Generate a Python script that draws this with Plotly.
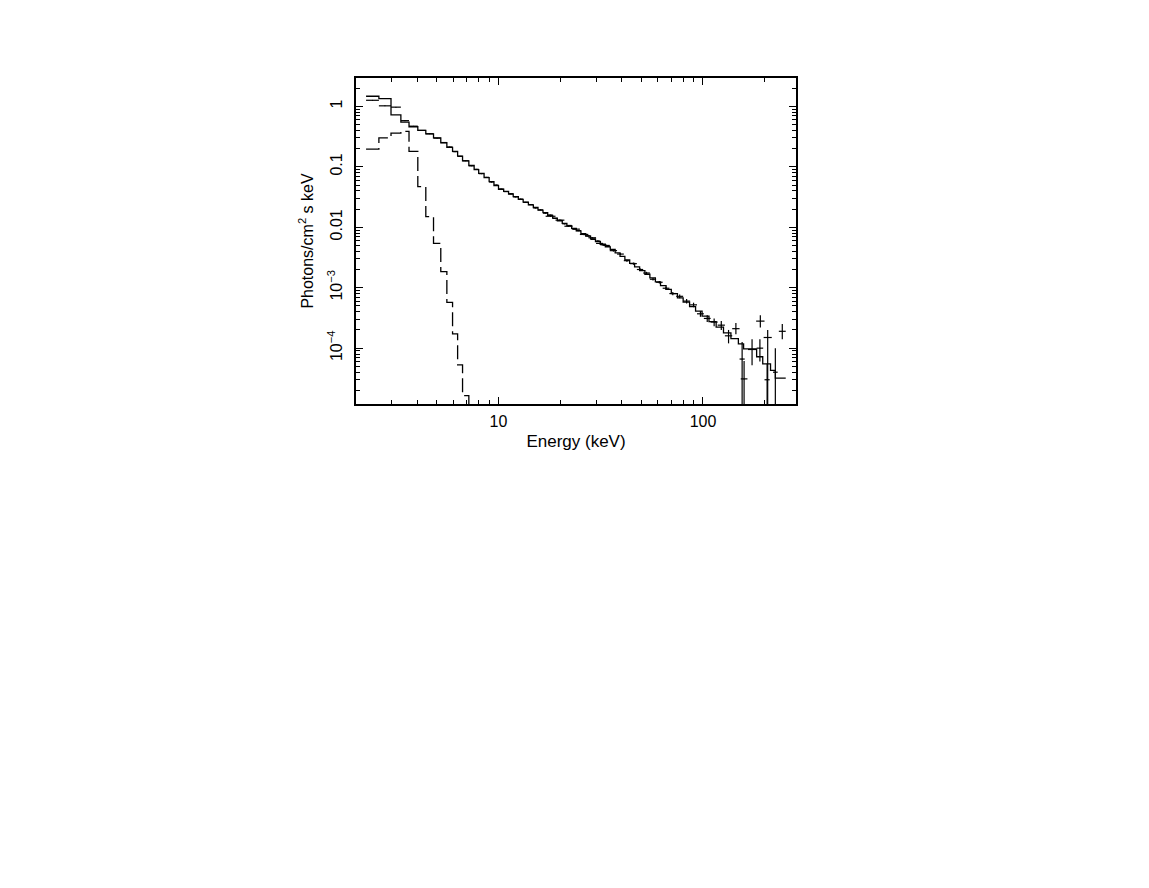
import math
import plotly.graph_objects as go

# ---------------- data ----------------
# model bin edges (keV)
model_edges = [2.25, 2.60, 2.98, 3.33, 3.65, 4.03, 4.41, 4.81, 5.22, 5.59, 5.96, 6.31, 6.67, 7.16, 7.60, 8.00, 8.50, 9.00, 9.50, 10.0,
               10.6, 11.2, 11.8, 12.5, 13.2, 14.0, 14.8, 15.6, 16.5, 17.4, 18.4, 19.4, 20.5, 21.6, 22.8, 24.0, 25.3, 26.7, 28.2, 29.8, 31.5, 33.3, 35.2,
               37.2, 39.3, 41.5, 43.8, 46.3, 49.0, 52.0, 55.0, 58.5, 62.0, 66.0, 70.0, 75.0, 80.0, 86.0, 92.0, 99.0,
               107, 116, 126, 137, 149, 158, 183, 196, 214, 226, 254]
# total model (photons / cm^2 s keV)
model_total = [1.47, 1.34, 0.72, 0.55, 0.46, 0.40, 0.35, 0.30, 0.25, 0.21, 0.18, 0.15, 0.125, 0.105, 0.090, 0.078, 0.066, 0.057, 0.049,
               0.0425, 0.0392, 0.0355, 0.0321, 0.0289, 0.0261, 0.0235, 0.0212, 0.0192, 0.0174, 0.0157, 0.0142, 0.0128, 0.0116, 0.0105, 0.00955, 0.00868, 0.00786, 0.00711, 0.00642, 0.00580, 0.00523, 0.00472,
               0.00430, 0.00376, 0.00329, 0.00289, 0.00253, 0.00221, 0.00192, 0.00167, 0.00145, 0.00125, 0.00108, 0.000935, 0.000800, 0.000681, 0.000577, 0.000487, 0.000411,
               3.39e-4, 2.75e-4, 2.22e-4, 1.79e-4, 1.44e-4, 1.18e-4, 9.7e-5, 7.2e-5, 5.5e-5, 4.3e-5, 3.2e-5]
# soft (dashed) component on the first bins
soft_component = [0.196, 0.30, 0.36, 0.385, 0.18, 0.047, 0.0150, 0.0054, 0.00184, 5.7e-4, 1.72e-4, 5.3e-5, 1.64e-5, 4.5e-6]

# low-energy instrument data (same bins as model, first 42)
pca_flux = [1.26, 1.02, 0.97, 0.58, 0.47, 0.40, 0.352, 0.298, 0.252, 0.213, 0.178, 0.149, 0.126, 0.104, 0.091, 0.077, 0.067, 0.056, 0.050,
            0.0428, 0.0389, 0.0358, 0.0318, 0.0292, 0.0258, 0.0237, 0.0209, 0.0194, 0.0171, 0.0159, 0.0140, 0.0130, 0.0114, 0.0107, 0.00940, 0.00880, 0.00775, 0.00722, 0.00630, 0.00592, 0.00512, 0.00485]
pca_err = [0.01, 0.008, 0.007, 0.005, 0.004, 0.003, 0.003, 0.0025, 0.002, 0.002, 0.0018, 0.0015, 0.0013, 0.0011, 0.001, 0.0009, 0.0008, 0.0007, 0.0006,
           0.0005, 0.0005, 0.00045, 0.0004, 0.0004, 0.00035, 0.00033, 0.0003, 0.0003, 0.00028, 0.00026, 0.00024, 0.00022, 0.0002, 0.0002, 0.00019, 0.00018, 0.00017, 0.00016, 0.00015, 0.00015, 0.00014, 0.00014]

# high-energy instrument data
hexte_edges = [17, 19, 21, 23, 25, 27.5, 30, 32.5, 35, 38, 41, 44, 47.5, 51, 55, 59, 63.5, 68.5, 74, 80, 86.5, 93.5, 101, 109, 118, 128, 139]
hexte_flux = [0.0152, 0.0131, 0.0104, 0.0093, 0.0076, 0.0067, 0.0054, 0.0050, 0.0041, 0.0036, 0.0028, 0.0025, 0.0020, 0.00175, 0.00138, 0.00123,
              0.00098, 0.00080, 0.00072, 0.00060, 0.00052, 0.00037, 0.00031, 0.00027, 0.00024, 0.00016]
hexte_err = [0.0003, 0.0003, 0.00025, 0.00022, 0.0002, 0.00018, 0.00016, 0.00015, 0.00013, 0.00012, 0.00011, 0.0001, 0.00009, 0.00008, 0.00007,
             0.00006, 0.00006, 0.00005, 0.00005, 0.00005, 0.000045, 0.00004, 0.00004, 0.00004, 0.00004, 0.00004]

# faint high-energy points
tail_lo = [139, 151, 153, 166, 182, 183, 198, 200, 220, 235]
tail_hi = [151, 160, 165, 182, 200, 197, 217, 212, 232, 254]
tail_flux = [2.1e-4, 6.6e-5, 3.1e-5, 9.5e-5, 2.8e-4, 1.0e-4, 1.5e-4, 3.0e-5, 4.0e-5, 1.9e-4]
tail_err_up = [5e-5, 6e-5, 3e-5, 4.5e-5, 7e-5, 4e-5, 5e-5, 2.5e-5, 6e-5, 6e-5]
tail_err_dn = [4e-5, 6.59e-5, 3.09e-5, 4.3e-5, 6e-5, 4e-5, 1.499e-4, 2.99e-5, 3.99e-5, 5e-5]

x_tick_vals = [10, 100]
x_tick_text = ["10", "100"]
y_tick_vals = [1e-4, 1e-3, 0.01, 0.1, 1]
y_tick_text = ["10<sup>\u22124</sup>", "10<sup>\u22123</sup>", "0.01", "0.1", "1"]

x_title = "Energy (keV)"
y_title = "Photons/cm<sup>2</sup> s keV"

# ---------------- figure ----------------
FONT = "Liberation Sans, Arial, sans-serif"
BLACK = "#000000"


def centers(lo, hi):
    return [math.sqrt(a * b) for a, b in zip(lo, hi)]


fig = go.Figure()

# total model histogram
fig.add_trace(go.Scatter(
    x=model_edges, y=model_total + [model_total[-1]],
    mode="lines", line=dict(color=BLACK, width=1.3, shape="hv"),
    hoverinfo="skip", showlegend=False))

# data crosses: low-energy instrument
pca_lo = model_edges[:len(pca_flux)]
pca_hi = model_edges[1:len(pca_flux) + 1]
pca_c = centers(pca_lo, pca_hi)
fig.add_trace(go.Scatter(
    x=pca_c, y=pca_flux, mode="markers",
    marker=dict(size=1, color=BLACK),
    error_x=dict(type="data", symmetric=False,
                 array=[h - c for h, c in zip(pca_hi, pca_c)],
                 arrayminus=[c - l for l, c in zip(pca_lo, pca_c)],
                 width=0, thickness=1.2, color=BLACK),
    error_y=dict(type="data", array=pca_err, width=0, thickness=1.2, color=BLACK),
    hoverinfo="skip", showlegend=False))

# data crosses: high-energy instrument
hx_lo = hexte_edges[:-1]
hx_hi = hexte_edges[1:]
hx_c = centers(hx_lo, hx_hi)
fig.add_trace(go.Scatter(
    x=hx_c, y=hexte_flux, mode="markers",
    marker=dict(size=1, color=BLACK),
    error_x=dict(type="data", symmetric=False,
                 array=[h - c for h, c in zip(hx_hi, hx_c)],
                 arrayminus=[c - l for l, c in zip(hx_lo, hx_c)],
                 width=0, thickness=1.2, color=BLACK),
    error_y=dict(type="data", array=hexte_err, width=0, thickness=1.2, color=BLACK),
    hoverinfo="skip", showlegend=False))

tl_c = centers(tail_lo, tail_hi)
fig.add_trace(go.Scatter(
    x=tl_c, y=tail_flux, mode="markers",
    marker=dict(size=1, color=BLACK),
    error_x=dict(type="data", symmetric=False,
                 array=[h - c for h, c in zip(tail_hi, tl_c)],
                 arrayminus=[c - l for l, c in zip(tail_lo, tl_c)],
                 width=0, thickness=1.2, color=BLACK),
    error_y=dict(type="data", symmetric=False, array=tail_err_up, arrayminus=tail_err_dn,
                 width=0, thickness=1.2, color=BLACK),
    hoverinfo="skip", showlegend=False))

# soft component (dashed) on the overlay axes used for minor ticks
soft_edges = model_edges[:len(soft_component) + 1]
fig.add_trace(go.Scatter(
    x=soft_edges, y=soft_component + [soft_component[-1]],
    mode="lines", line=dict(color=BLACK, width=1.3, shape="hv", dash="14px,5px"),
    xaxis="x2", yaxis="y2", hoverinfo="skip", showlegend=False))

XR = [0.303, 2.455]
YR = [-4.924, 0.469]

fig.update_layout(
    width=1149, height=888, autosize=False,
    margin=dict(l=348, r=361, t=70, b=492, pad=0),
    paper_bgcolor="white", plot_bgcolor="white",
    font=dict(family=FONT, color=BLACK, size=16),
    xaxis=dict(type="log", range=XR, showgrid=False, zeroline=False,
               showline=True, linecolor=BLACK, linewidth=1.5, mirror="ticks",
               ticks="inside", ticklen=7, tickwidth=1, tickcolor=BLACK,
               tickvals=x_tick_vals, ticktext=x_tick_text,
               tickfont=dict(family=FONT, size=16), ticklabelstandoff=2,
               title=dict(text=x_title, font=dict(family=FONT, size=17), standoff=6)),
    yaxis=dict(type="log", range=YR, showgrid=False, zeroline=False,
               showline=True, linecolor=BLACK, linewidth=1.5, mirror="ticks",
               ticks="inside", ticklen=7, tickwidth=1, tickcolor=BLACK,
               tickvals=y_tick_vals, ticktext=y_tick_text, tickangle=-90,
               tickfont=dict(family=FONT, size=16), ticklabelstandoff=6,
               title=dict(text=y_title, font=dict(family=FONT, size=16), standoff=8)),
    xaxis2=dict(type="log", range=XR, overlaying="x", anchor="y2", side="bottom",
                showgrid=False, zeroline=False, showline=False, mirror="ticks",
                ticks="inside", ticklen=4, tickwidth=1, tickcolor=BLACK,
                dtick="D1", showticklabels=False),
    yaxis2=dict(type="log", range=YR, overlaying="y", anchor="x2", side="left",
                showgrid=False, zeroline=False, showline=False, mirror="ticks",
                ticks="inside", ticklen=4, tickwidth=1, tickcolor=BLACK,
                dtick="D1", showticklabels=False),
)

fig.write_html("out.html")
